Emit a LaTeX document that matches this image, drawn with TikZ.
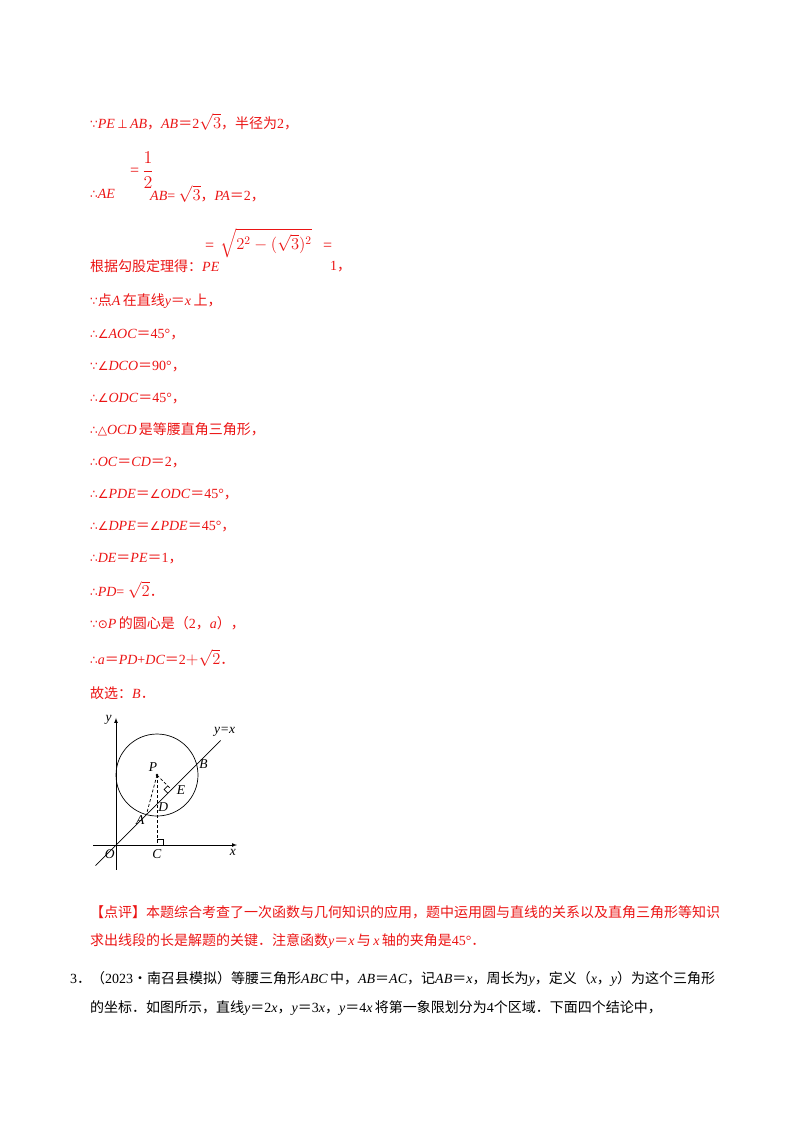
\documentclass[tikz,border=0pt]{standalone}
\usepackage{amsmath,amssymb,graphicx}
\usepackage{fontspec}
\usetikzlibrary{calc}
\setmainfont{Liberation Serif}
\newfontfamily\cjk{Noto Sans CJK SC}
\newfontfamily\symf{DejaVu Sans}
\newcommand{\zh}[1]{{\cjk #1}}
\newcommand{\vi}[1]{\textit{#1}}
\newcommand{\sy}[1]{{\symf\fontsize{12}{14}\selectfont #1}}
\newcommand{\rt}[1]{\scalebox{1.15}{$\sqrt{#1}$}}
\definecolor{ansred}{RGB}{235,20,20}
\begin{document}
\begin{tikzpicture}[x=1pt,y=-1pt,
  every node/.style={inner sep=0pt,anchor=base west,font=\fontsize{14}{16}\selectfont},
  line/.style={text=ansred},
  figlbl/.style={font=\fontsize{13.5}{15}\selectfont\itshape}]
\useasboundingbox (0,0) rectangle (800,1132);
% solution text
\node[line] (l1) at (90,128) {\sy{∵}\vi{PE}\,\sy{⊥}\,\vi{AB}\zh{，}\vi{AB}\zh{＝}2\rt{3}\zh{，半径为}2\zh{，}};
\node[line] (l2) at (90,198) {\sy{∴}\vi{AE}};
\node[line] (l2eq) at (130,175) {\fontsize{16}{18}\selectfont=};
\node[line,anchor=center] (l2fr) at (148,170) {\scalebox{1.25}{$\dfrac{1}{2}$}};
\node[line] (l2b) at (150,200) {\vi{AB}= \rt{3}\zh{，}\vi{PA}\zh{＝}2\zh{，}};
\node[line] (l3) at (90,271) {\zh{根据勾股定理得：}\vi{PE}};
\node[line] (l3eq) at (205,250) {\fontsize{16}{18}\selectfont=};
\node[line,anchor=west] (l3rt) at (220,243) {\scalebox{1.15}{$\sqrt{2^2-(\sqrt{3})^2}$}};
\node[line] (l3eq2) at (323,250) {\fontsize{16}{18}\selectfont=};
\node[line] (l3v) at (330,270) {1\zh{，}};
\node[line] (l4) at (90,305) {\sy{∵}\zh{点}\vi{A}\,\zh{在直线}\vi{y}\zh{＝}\vi{x}\,\zh{上，}};
\node[line] (l5) at (90,338) {\sy{∴∠}\vi{AOC}\zh{＝}45°\zh{，}};
\node[line] (l6) at (90,370) {\sy{∵∠}\vi{DCO}\zh{＝}90°\zh{，}};
\node[line] (l7) at (90,402) {\sy{∴∠}\vi{ODC}\zh{＝}45°\zh{，}};
\node[line] (l8) at (90,434) {\sy{∴△}\vi{OCD}\,\zh{是等腰直角三角形，}};
\node[line] (l9) at (90,466) {\sy{∴}\vi{OC}\zh{＝}\vi{CD}\zh{＝}2\zh{，}};
\node[line] (l10) at (90,498) {\sy{∴∠}\vi{PDE}\zh{＝}\sy{∠}\vi{ODC}\zh{＝}45°\zh{，}};
\node[line] (l11) at (90,530) {\sy{∴∠}\vi{DPE}\zh{＝}\sy{∠}\vi{PDE}\zh{＝}45°\zh{，}};
\node[line] (l12) at (90,562) {\sy{∴}\vi{DE}\zh{＝}\vi{PE}\zh{＝}1\zh{，}};
\node[line] (l13) at (90,596) {\sy{∴}\vi{PD}= \rt{2}\zh{．}};
\node[line] (l14) at (90,628) {\sy{∵⊙}\vi{P}\,\zh{的圆心是（}2\zh{，}\vi{a}\zh{），}};
\node[line] (l15) at (90,664) {\sy{∴}\vi{a}\zh{＝}\vi{PD}+\vi{DC}\zh{＝}2\scalebox{1.15}{$+\sqrt{2}$}\zh{．}};
\node[line] (l16) at (90,698) {\zh{故选：}\vi{B}\zh{．}};
% figure
\begin{scope}[shift={(116,845)},x=20.5pt,y=20.5pt,line width=0.7pt]
  \coordinate (O) at (0,0);
  \coordinate (P) at (2,3.414);
  \coordinate (A) at (1.482,1.482);
  \coordinate (B) at (3.932,3.932);
  \coordinate (D) at (2,2);
  \coordinate (E) at (2.707,2.707);
  \coordinate (C) at (2,0);
  \draw[-latex] (-1.1,0) -- (5.9,0) coordinate (xend);
  \draw[-latex] (0,-1.2) -- (0,6.2) coordinate (yend);
  \draw (-1,-1) -- (5.1,5.1) coordinate (lend);
  \draw (P) circle (2);
  \fill (P) circle (1.3pt);
  \draw[densely dashed] (P) -- (A);
  \draw[densely dashed] (P) -- (C);
  \draw[densely dashed] (P) -- (E);
  \draw ($(E)+(-0.18,0.18)$) -- ++(-0.18,-0.18) -- ++(0.18,-0.18);
  \draw (C) ++(0,0.3) -- ++(0.3,0) -- ++(0,-0.3);
  \node[figlbl,anchor=north east] (Ol) at (-0.05,-0.2) {O};
  \node[figlbl,anchor=north] (Cl) at (2,-0.2) {C};
  \node[figlbl,anchor=north] (xl) at (5.7,-0.2) {x};
  \node[figlbl,anchor=east] (yl) at (-0.2,6.1) {y};
  \node[figlbl,anchor=south] (yxl) at (5.3,5.3) {y=x};
  \node[figlbl,anchor=south] (Pl) at (1.8,3.55) {P};
  \node[figlbl,anchor=west] (Bl) at (4.05,3.95) {B};
  \node[figlbl,anchor=east] (Al) at (1.4,1.2) {A};
  \node[figlbl,anchor=west] (Dl) at (2.05,1.85) {D};
  \node[figlbl,anchor=west] (El) at (2.95,2.7) {E};
\end{scope}
\node[line] (r1) at (90,917) {\zh{【点评】本题综合考查了一次函数与几何知识的应用，题中运用圆与直线的关系以及直角三角形等知识}};
\node[line] (r2) at (90,945) {\zh{求出线段的长是解题的关键．注意函数}\vi{y}\zh{＝}\vi{x}\,\zh{与}\,\vi{x}\,\zh{轴的夹角是}45°\zh{．}};
\node (q1) at (70,983) {3\zh{．（}2023\zh{•南召县模拟）等腰三角形}\vi{ABC}\,\zh{中，}\vi{AB}\zh{＝}\vi{AC}\zh{，记}\vi{AB}\zh{＝}\vi{x}\zh{，周长为}\vi{y}\zh{，定义（}\vi{x}\zh{，}\vi{y}\zh{）为这个三角形}};
\node (q2) at (90,1012) {\zh{的坐标．如图所示，直线}\vi{y}\zh{＝}2\vi{x}\zh{，}\vi{y}\zh{＝}3\vi{x}\zh{，}\vi{y}\zh{＝}4\vi{x}\,\zh{将第一象限划分为}4\zh{个区域．下面四个结论中，}};
\end{tikzpicture}
\end{document}
